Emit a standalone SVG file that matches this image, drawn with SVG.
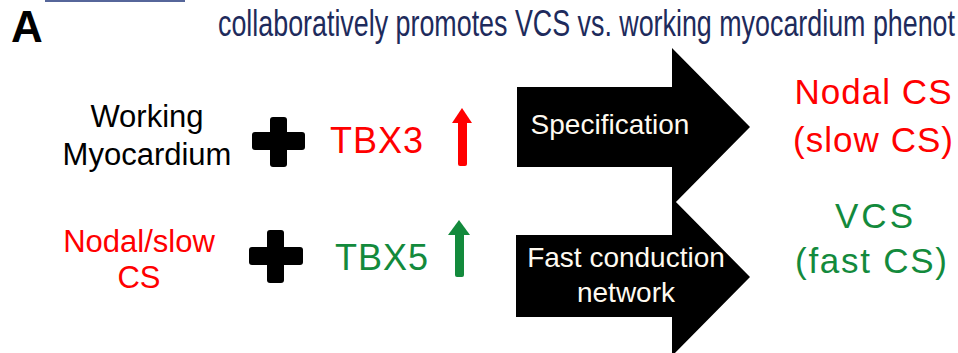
<svg xmlns="http://www.w3.org/2000/svg" width="958" height="353" viewBox="0 0 958 353">
<style>
text{font-family:"Liberation Sans",Arial,sans-serif}
.blk{fill:#000}
.red{fill:#ff0000}
.grn{fill:#138a3c}
.lbl{font-size:31px;text-anchor:middle}
.res{font-size:35px;text-anchor:middle}
.arw{font-size:28px;fill:#fffaf0;text-anchor:middle}
.tbx{font-size:36px}
</style>
<rect width="958" height="353" fill="#fff"/>
<rect x="45" y="0" width="140" height="2" fill="#56669a"/>
<text x="11" y="42" font-size="44" font-weight="bold" class="blk">A</text>
<text id="title" x="218" y="36" font-size="36" fill="#1e2b5c" textLength="737" lengthAdjust="spacingAndGlyphs">collaboratively promotes VCS vs. working myocardium phenot</text>

<g id="connectors">
  <g id="arrow-specification">
    <polygon class="blk" points="517,87 672,87 672,48 750,127 672,206 672,167 517,167"/>
    <text class="arw" x="610" y="134">Specification</text>
  </g>
  <g id="arrow-fast">
    <polygon class="blk" points="516,235 672,235 672,198 750,277 672,356 672,317 516,317"/>
    <text class="arw" x="626" y="267">Fast conduction</text>
    <text class="arw" x="626" y="302">network</text>
  </g>
</g>

<g id="working-myocardium">
  <text class="lbl blk" x="147" y="127">Working</text>
  <text class="lbl blk" x="147" y="165">Myocardium</text>
</g>
<g id="plus-1">
  <rect class="blk" x="270" y="117" width="17" height="50" rx="3"/>
  <rect class="blk" x="252" y="132" width="53" height="18" rx="3"/>
</g>
<g id="tbx3">
  <text class="tbx red" x="330" y="153" textLength="93">TBX3</text>
  <rect class="red" x="458" y="121" width="9" height="45" rx="2"/>
  <polygon class="red" points="452,123 462,108 472,123"/>
</g>
<g id="nodal-slow">
  <text class="lbl red" x="139" y="252">Nodal/slow</text>
  <text class="lbl red" x="139" y="288">CS</text>
</g>
<g id="plus-2">
  <rect class="blk" x="267" y="230" width="17" height="53" rx="3"/>
  <rect class="blk" x="249" y="247" width="54" height="18" rx="3"/>
</g>
<g id="tbx5">
  <text class="tbx grn" x="335" y="270" textLength="93">TBX5</text>
  <rect class="grn" x="455" y="233" width="9" height="44" rx="2"/>
  <polygon class="grn" points="448,235 459,220 470,235"/>
</g>
<g id="nodal-cs">
  <text class="res red" x="873" y="104" textLength="157">Nodal CS</text>
  <text class="res red" x="873" y="152" textLength="160">(slow CS)</text>
</g>
<g id="vcs">
  <text class="res grn" x="874" y="228" textLength="78">VCS</text>
  <text class="res grn" x="871" y="273" textLength="152">(fast CS)</text>
</g>
</svg>
